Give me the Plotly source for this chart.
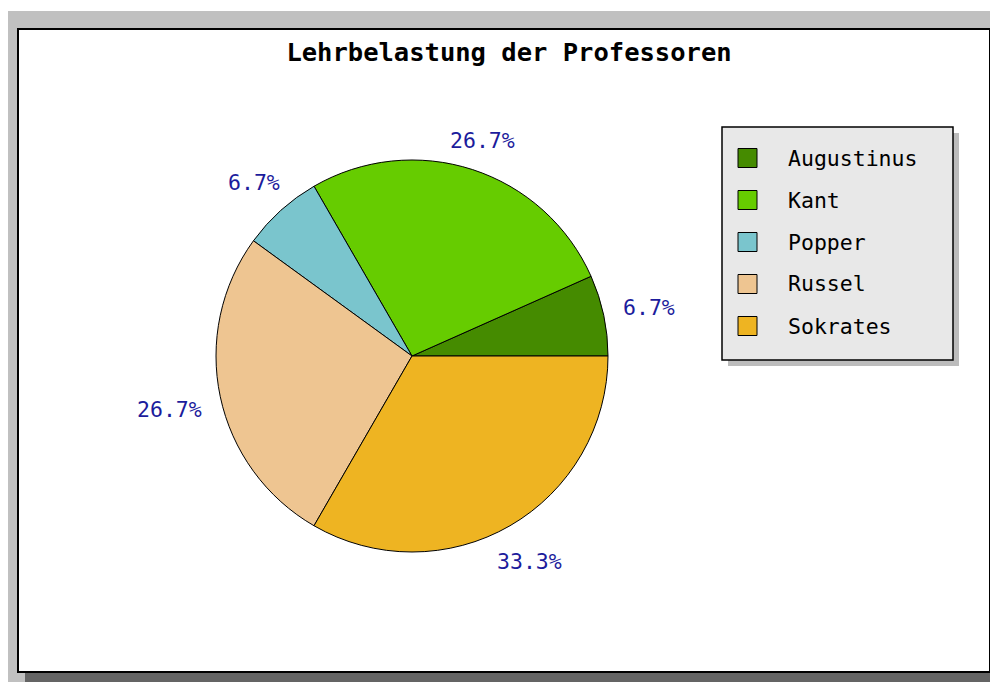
import math
import plotly.graph_objects as go

# The page body has an 8px margin, so the figure occupies screen pixels 8..998 x 8..682
OFF = 8
W, H = 998 - OFF, 682 - OFF

# ---- data ----
names = ["Augustinus", "Kant", "Popper", "Russel", "Sokrates"]
values = [1, 4, 1, 4, 5]
colors = ["#458b00", "#66cc00", "#7ac5cd", "#eec591", "#eeb422"]
title_text = "Lehrbelastung der Professoren"

MONO = "DejaVu Sans Mono"


def px(x):
    """screen pixel x -> paper fraction"""
    return (x - OFF) / W


def py(y):
    """screen pixel y -> paper fraction"""
    return 1 - (y - OFF) / H


# pie geometry (screen pixels)
cx, cy, R = 412, 356, 196
total = sum(values)

# plotly's counterclockwise mode lays the first slice clockwise from `rotation`,
# so shift by the first slice so it begins at 3 o'clock and runs counterclockwise
rotation = 90 - 360.0 * values[0] / total

fig = go.Figure()
fig.add_trace(go.Pie(
    labels=names,
    values=values,
    marker=dict(colors=colors, line=dict(color="#000000", width=1)),
    sort=False,
    direction="counterclockwise",
    rotation=rotation,
    textinfo="none",
    hoverinfo="label+percent",
    showlegend=False,
    domain=dict(x=[px(cx - R), px(cx + R)], y=[py(cy + R), py(cy - R)]),
))

shapes = []
# outer light gray background
shapes.append(dict(type="rect", xref="paper", yref="paper", layer="below",
                   x0=px(8), x1=px(998), y0=py(682), y1=py(11),
                   fillcolor="#c0c0c0", line=dict(width=0)))
# frame shadow
shapes.append(dict(type="rect", xref="paper", yref="paper", layer="below",
                   x0=px(25), x1=px(998), y0=py(682), y1=py(36),
                   fillcolor="#646464", line=dict(width=0)))
# white frame
shapes.append(dict(type="rect", xref="paper", yref="paper", layer="below",
                   x0=px(18), x1=px(990), y0=py(672), y1=py(29),
                   fillcolor="#ffffff", line=dict(color="#000000", width=2)))

# legend box with shadow
lx0, lx1, ly0, ly1 = 722, 953, 127, 360
shapes.append(dict(type="rect", xref="paper", yref="paper", layer="below",
                   x0=px(lx0 + 6), x1=px(lx1 + 6), y0=py(ly1 + 6), y1=py(ly0 + 6),
                   fillcolor="#bcbcbc", line=dict(width=0)))
shapes.append(dict(type="rect", xref="paper", yref="paper", layer="below",
                   x0=px(lx0), x1=px(lx1), y0=py(ly1), y1=py(ly0),
                   fillcolor="#e8e8e8", line=dict(color="#000000", width=1.5)))

annotations = []
row0, rowgap, sq = 158, 42, 19
for i, (n, c) in enumerate(zip(names, colors)):
    yc = row0 + i * rowgap
    shapes.append(dict(type="rect", xref="paper", yref="paper", layer="above",
                       x0=px(738), x1=px(738 + sq), y0=py(yc + sq / 2), y1=py(yc - sq / 2),
                       fillcolor=c, line=dict(color="#000000", width=1)))
    annotations.append(dict(x=px(786), y=py(yc), xref="paper", yref="paper",
                            text=n, showarrow=False, xanchor="left", yanchor="middle",
                            font=dict(family=MONO, size=21.5, color="#000000")))

# percentage labels outside the slices
start = 0.0
for v in values:
    frac = v / total
    mid = math.radians((start + frac / 2) * 360.0)
    start += frac
    txt = f"{frac * 100:.1f}%"
    w, h = len(txt) * 13, 6
    r = R + 20 + abs(math.cos(mid)) * w / 2 + abs(math.sin(mid)) * h / 2
    x = cx + r * math.cos(mid)
    y = cy - r * math.sin(mid) + 2
    annotations.append(dict(x=px(x), y=py(y), xref="paper", yref="paper",
                            text=txt, showarrow=False, xanchor="center", yanchor="middle",
                            font=dict(family=MONO, size=21.5, color="#1c1c9c")))

fig.update_layout(
    width=W, height=H,
    margin=dict(l=0, r=0, t=0, b=0),
    paper_bgcolor="#ffffff",
    plot_bgcolor="#ffffff",
    title=dict(text=f"<b>{title_text}</b>", x=px(509), y=py(52),
               xref="paper", yref="paper", xanchor="center", yanchor="middle",
               font=dict(family=MONO, size=25.5, color="#000000")),
    shapes=shapes,
    annotations=annotations,
)

fig.write_html("out.html")
